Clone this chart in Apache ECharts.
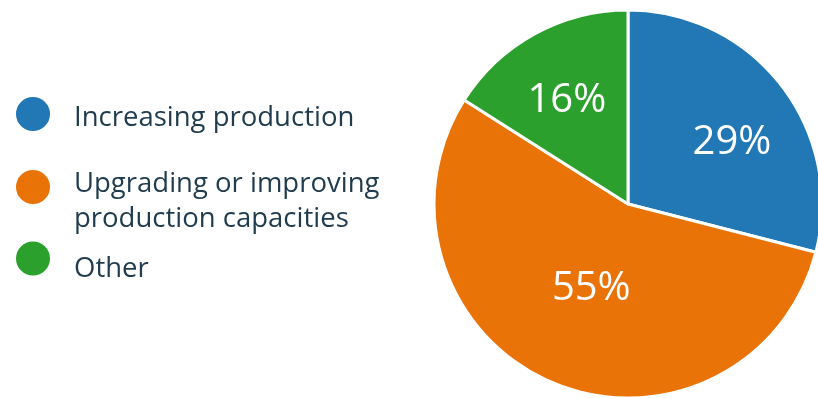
<!DOCTYPE html>
<html>
<head>
<meta charset="utf-8">
<script src="https://cdn.jsdelivr.net/npm/echarts@6/dist/echarts.min.js"></script>
<style>
html,body{margin:0;padding:0;background:#fff;}
#chart{width:818px;height:398px;}
</style>
</head>
<body>
<div id="chart"></div>
<script>
const categories = ["Increasing production", "Upgrading or improving\nproduction capacities", "Other"];
const values = [29, 55, 16];
const colors = ["#2178b4", "#e97306", "#2ca02c"];

const chart = echarts.init(document.getElementById('chart'), null, {renderer: 'canvas'});
const textColor = '#1f3b4d';
const legendTops = [95, 151.5, 239.5];
const spacers = [8, 29, 22];
const richStyle = {
  t: {fontFamily: 'Open Sans', fontSize: 27.5, color: textColor, lineHeight: 35, padding: [0, 0, 0, 18]}
};
const legends = categories.map((c, i) => ({
  orient: 'vertical',
  left: 14,
  top: legendTops[i],
  padding: 0,
  icon: 'circle',
  itemWidth: 36,
  itemHeight: 36,
  itemGap: 0,
  selectedMode: false,
  data: [c],
  formatter: function (name) {
    const lines = name.split('\n').map(l => '{t|' + l + '}');
    if (spacers[i] > 0) {
      return ['{s| }'].concat(lines).join('\n');
    }
    return lines.join('\n');
  },
  textStyle: {
    color: textColor,
    rich: Object.assign({}, richStyle, {s: {fontSize: 1, lineHeight: spacers[i] || 1}})
  }
}));
const labelOffsets = [[25, 0], [3, -7], [-13, -16]];
chart.setOption({
  animation: false,
  color: colors,
  legend: legends,
  series: [{
    type: 'pie',
    center: [628, 204],
    radius: 194,
    startAngle: 90,
    clockwise: true,
    itemStyle: {borderColor: '#fff', borderWidth: 3},
    label: {
      position: 'inside',
      formatter: '{d}%',
      color: '#fff',
      fontFamily: 'Open Sans',
      fontSize: 40
    },
    labelLine: {show: false},
    data: categories.map((c, i) => ({name: c, value: values[i], label: {offset: labelOffsets[i]}}))
  }]
});
</script>
</body>
</html>
